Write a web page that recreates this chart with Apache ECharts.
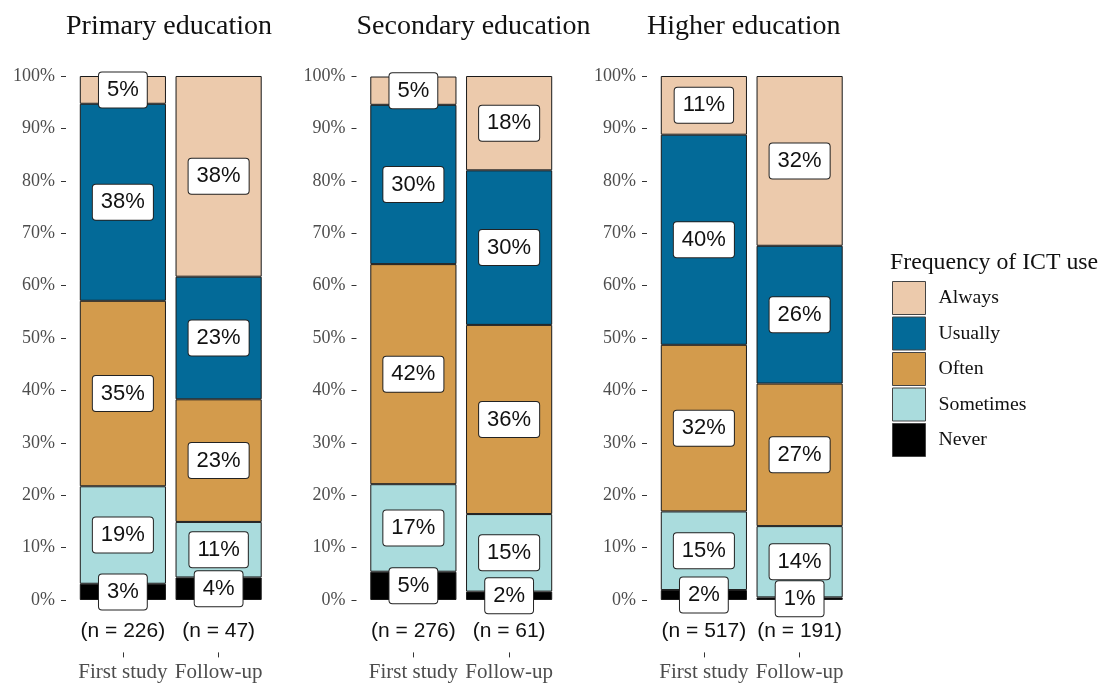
<!DOCTYPE html>
<html><head><meta charset="utf-8">
<script src="https://cdn.jsdelivr.net/npm/echarts@6/dist/echarts.min.js"></script>
<style>html,body{margin:0;padding:0;background:#fff}#c{width:1100px;height:685px}</style>
</head><body><div id="c"></div>
<script>
// ---- data ----
const panelTitles = ['Primary education', 'Secondary education', 'Higher education'];
const categories = ['First study', 'Follow-up'];
const sampleSizes = [[226, 47], [276, 61], [517, 191]];
const levelNames = ['Never', 'Sometimes', 'Often', 'Usually', 'Always'];
const neverPct     = [[3.1, 4.3], [5.4, 1.6], [1.9, 0.5]];
const sometimesPct = [[18.6, 10.6], [16.7, 14.8], [15.0, 13.6]];
const oftenPct     = [[35.4, 23.4], [42.0, 36.1], [31.8, 27.2]];
const usuallyPct   = [[37.6, 23.4], [30.4, 29.5], [40.1, 26.3]];
const alwaysPct    = [[5.3, 38.3], [5.4, 18.0], [11.2, 32.4]];
const yTicks = [0, 10, 20, 30, 40, 50, 60, 70, 80, 90, 100];
const legendTitle = 'Frequency of ICT use';

// ---- styling / layout ----
const levelData = [neverPct, sometimesPct, oftenPct, usuallyPct, alwaysPct];
const levelColors = ['#000000', '#AADCDD', '#D39B4C', '#036A98', '#ECCAAC'];
const gridLefts = [75, 365.5, 656];
const gridWidth = 191.5;
const N_LABEL_Y = -5.9;
const serif = "'Liberation Serif', 'Times New Roman', serif";
const sans = "'Liberation Sans', Arial, sans-serif";

const grids = [], xAxes = [], yAxes = [], series = [], titles = [];
panelTitles.forEach((t, i) => {
  grids.push({ left: gridLefts[i], width: gridWidth, top: 76, bottom: 32.6 });
  titles.push({ text: t, left: gridLefts[i] - 9, top: 13, padding: 0,
    textStyle: { fontFamily: serif, fontSize: 28, fontWeight: 'normal', color: '#111' } });
  xAxes.push({ type: 'category', gridIndex: i, data: categories, position: 'bottom',
    axisLine: { show: true, onZero: false, lineStyle: { color: '#ffffff', width: 0 } },
    axisTick: { show: true, interval: 0, alignWithLabel: true, inside: false, length: 5,
      lineStyle: { color: '#333', width: 1 } },
    axisLabel: { interval: 0, hideOverlap: false, fontFamily: serif, fontSize: 21, color: '#4d4d4d', margin: 10 } });
  yAxes.push({ type: 'value', gridIndex: i, min: -10, max: 100, interval: 10, offset: 9,
    axisLine: { show: false }, splitLine: { show: false },
    axisTick: { show: true, length: 5, lineStyle: { color: '#333' }, customValues: yTicks },
    axisLabel: { customValues: yTicks, formatter: v => v + '%', fontFamily: serif, fontSize: 18, color: '#4d4d4d', margin: 11 } });
  levelNames.forEach((name, j) => {
    series.push({ type: 'bar', name: name, xAxisIndex: i, yAxisIndex: i, stack: 'p' + i,
      barWidth: '90%', data: levelData[j][i],
      itemStyle: { color: levelColors[j], borderColor: '#1a1a1a', borderWidth: 1 },
      label: { show: true, position: 'inside', formatter: p => Math.round(p.value) + '%',
        fontFamily: sans, fontSize: 22, color: '#111', backgroundColor: '#fff',
        borderColor: '#222', borderWidth: 1, borderRadius: 3, padding: [7, 8, 6, 8] } });
  });
  series.push({ type: 'scatter', name: 'n', xAxisIndex: i, yAxisIndex: i, symbolSize: 0,
    itemStyle: { color: '#fff', opacity: 1 }, silent: true,
    data: categories.map((c, k) => [k, N_LABEL_Y]),
    label: { show: true, position: 'inside', formatter: p => '(n = ' + sampleSizes[i][p.dataIndex] + ')',
      fontFamily: sans, fontSize: 21, color: '#111', opacity: 1 } });
});
titles.push({ text: legendTitle, left: 890, top: 251, padding: 0,
  textStyle: { fontFamily: serif, fontSize: 23.8, fontWeight: 'normal', color: '#111' } });

const chart = echarts.init(document.getElementById('c'));
chart.setOption({
  animation: false,
  backgroundColor: '#fff',
  title: titles,
  grid: grids, xAxis: xAxes, yAxis: yAxes, series: series,
  legend: { orient: 'vertical', left: 892, top: 281, padding: 0, itemWidth: 33, itemHeight: 33, itemGap: 1.5,
    icon: 'rect', selectedMode: false, data: levelNames.slice().reverse(),
    itemStyle: { borderColor: '#444', borderWidth: 1 },
    textStyle: { fontFamily: serif, fontSize: 19.8, color: '#111', padding: [0, 0, 0, 8] } }
});
</script></body></html>
